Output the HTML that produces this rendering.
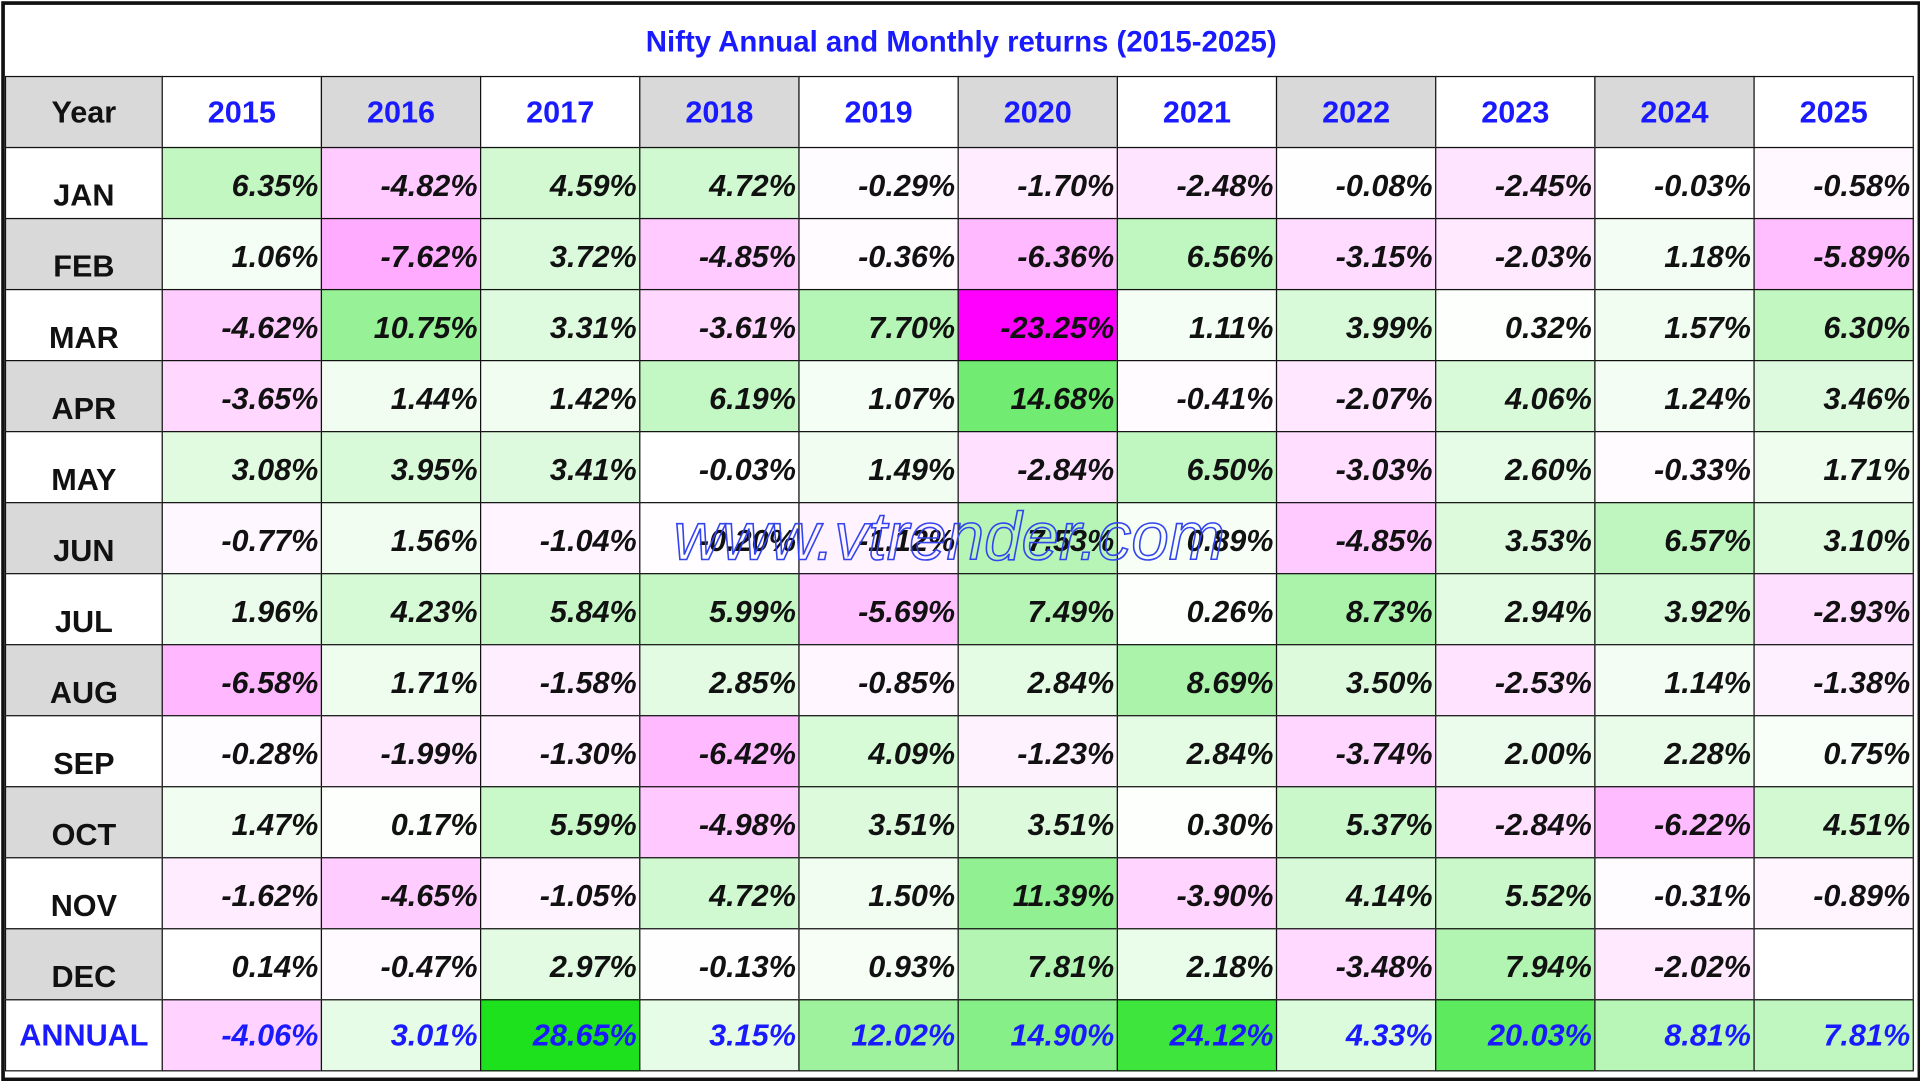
<!DOCTYPE html>
<html><head><meta charset="utf-8"><style>
html,body{margin:0;padding:0;background:#fff;width:1920px;height:1080px;overflow:hidden}
#w{position:absolute;left:0;top:0;width:1568px;height:882px;transform:scale(1.22449);transform-origin:0 0;font-family:"Liberation Sans",Arial,sans-serif}
#frame{position:absolute;left:1px;top:1px;width:1562px;height:876px;border:3px solid #111;background:#fff}
#title{position:absolute;left:0;top:0;width:1562px;height:60px;line-height:62px;text-align:center;color:#1a1aff;font-weight:bold;font-size:24px}
.c{position:absolute;box-sizing:border-box;border:1.5px solid #111;font-weight:bold;font-size:25px}
.v{font-style:italic;text-align:right;padding-right:2px}
#wm{position:absolute;left:546px;top:402px;font-size:55px;font-style:italic;color:transparent;-webkit-text-stroke:1.3px #3344ee;white-space:nowrap}
</style></head><body><div id="w"><div id="frame"><div id="title">Nifty Annual and Monthly returns (2015-2025)</div><div id="t"></div><div id="wm">www.vtrender.com</div></div></div>
<script>
var m=["JAN","FEB","MAR","APR","MAY","JUN","JUL","AUG","SEP","OCT","NOV","DEC","ANNUAL"];
var d=[
[6.35,-4.82,4.59,4.72,-0.29,-1.70,-2.48,-0.08,-2.45,-0.03,-0.58],
[1.06,-7.62,3.72,-4.85,-0.36,-6.36,6.56,-3.15,-2.03,1.18,-5.89],
[-4.62,10.75,3.31,-3.61,7.70,-23.25,1.11,3.99,0.32,1.57,6.30],
[-3.65,1.44,1.42,6.19,1.07,14.68,-0.41,-2.07,4.06,1.24,3.46],
[3.08,3.95,3.41,-0.03,1.49,-2.84,6.50,-3.03,2.60,-0.33,1.71],
[-0.77,1.56,-1.04,-0.20,-1.12,7.53,0.89,-4.85,3.53,6.57,3.10],
[1.96,4.23,5.84,5.99,-5.69,7.49,0.26,8.73,2.94,3.92,-2.93],
[-6.58,1.71,-1.58,2.85,-0.85,2.84,8.69,3.50,-2.53,1.14,-1.38],
[-0.28,-1.99,-1.30,-6.42,4.09,-1.23,2.84,-3.74,2.00,2.28,0.75],
[1.47,0.17,5.59,-4.98,3.51,3.51,0.30,5.37,-2.84,-6.22,4.51],
[-1.62,-4.65,-1.05,4.72,1.50,11.39,-3.90,4.14,5.52,-0.31,-0.89],
[0.14,-0.47,2.97,-0.13,0.93,7.81,2.18,-3.48,7.94,-2.02,null],
[-4.06,3.01,28.65,3.15,12.02,14.90,24.12,4.33,20.03,8.81,7.81]];
function col(v,ann){if(v==null)return"#fff";
if(v<0){var t=Math.min(-v/23.25,1);var g=Math.round(255-t*255);return"rgb(255,"+g+",255)";}
var t,r,g;if(ann){t=Math.min(v/28,1);r=Math.round(255-t*225);g=Math.round(255-t*30);}
else{t=Math.min(v/15,1);r=Math.round(255-t*145);g=Math.round(255-t*20);}
return"rgb("+r+","+g+","+r+")";}
var h="";var X=function(i){return i==0?0:128+(i-1)*130};
h+='<div class="c" style="left:0;top:58px;width:129px;height:59px;background:#d9d9d9;line-height:59px;text-align:center;color:#111">Year</div>';
for(var j=0;j<11;j++)h+='<div class="c" style="left:'+X(j+1)+'px;top:58px;width:131px;height:59px;line-height:59px;text-align:center;color:#1a1aff;background:'+(j%2?"#d9d9d9":"#fff")+'">'+(2015+j)+'</div>';
for(var i=0;i<13;i++){var y=116+i*58;var ann=i==12;var hh=59;
h+='<div class="c" style="left:0;top:'+y+'px;width:129px;height:'+hh+'px;text-align:center;background:'+(i%2?"#d9d9d9":"#fff")+';color:'+(ann?"#1a1aff":"#111")+';line-height:'+(ann?58:78)+'px">'+m[i]+'</div>';
for(var j=0;j<11;j++){var v=d[i][j];h+='<div class="c v" style="left:'+X(j+1)+'px;top:'+y+'px;width:131px;height:'+hh+'px;line-height:'+(ann?58:62)+'px;background:'+col(v,ann)+';color:'+(ann?"#1a1aff":"#111")+'">'+(v==null?"":v.toFixed(2)+"%")+'</div>';}}
document.getElementById("t").innerHTML=h;
</script></body></html>
